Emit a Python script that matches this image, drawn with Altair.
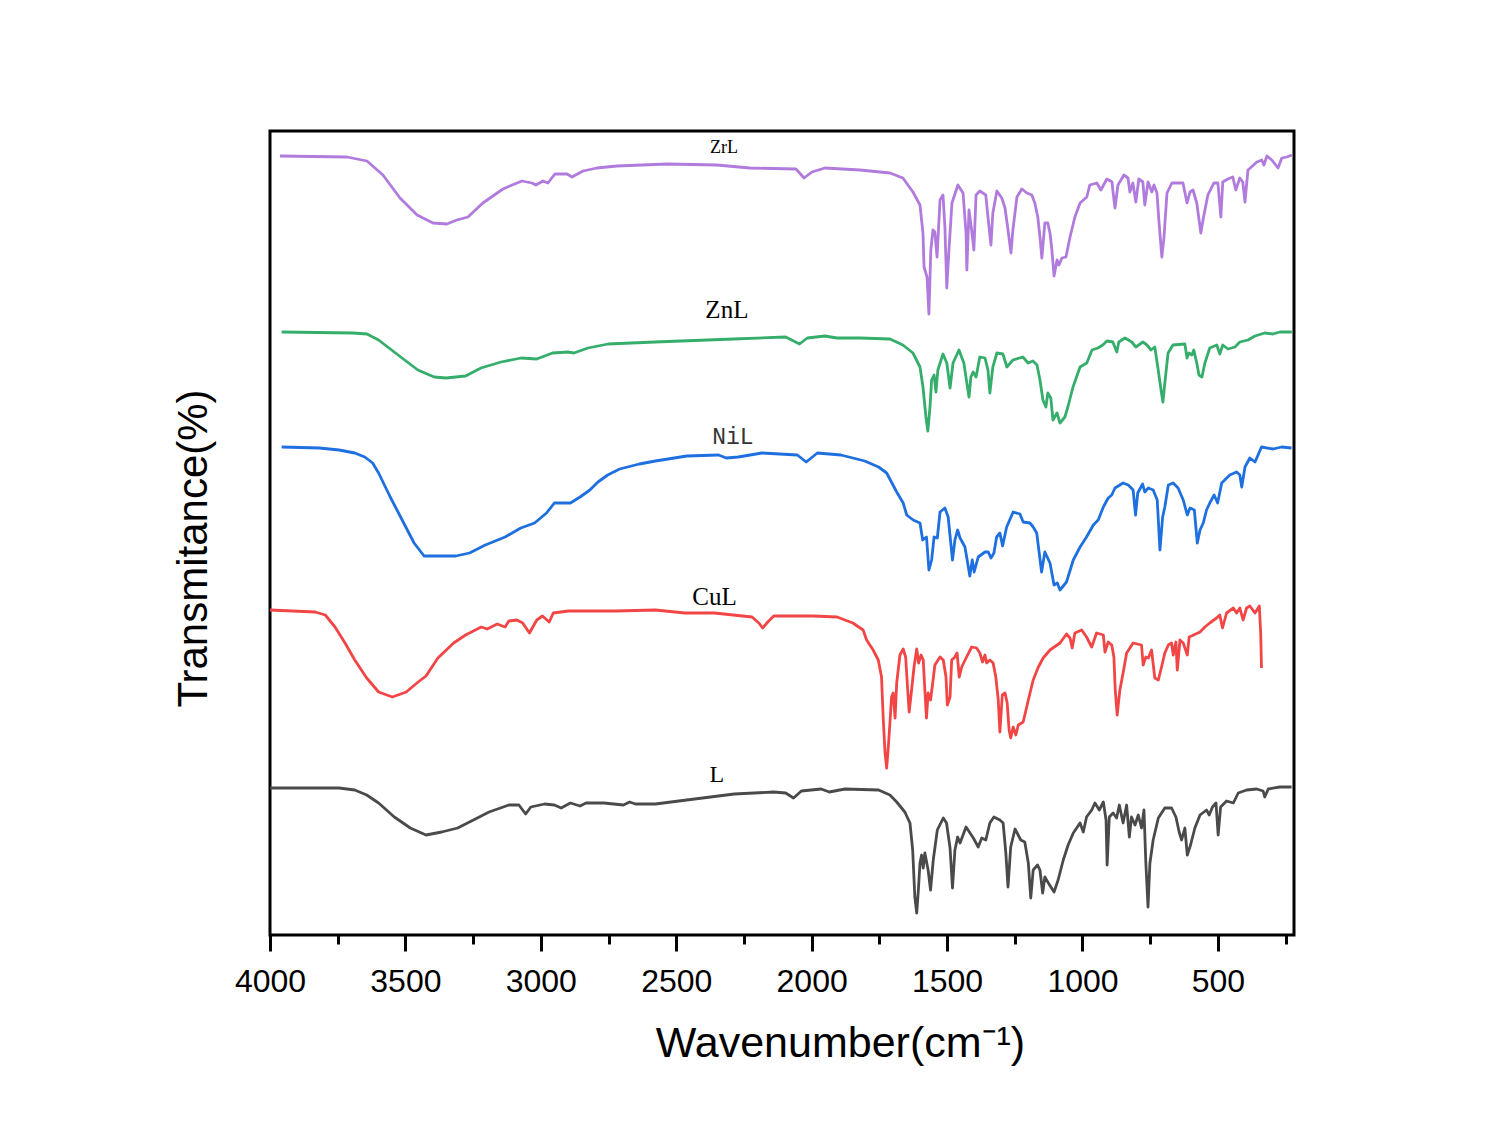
import altair as alt
import pandas as pd

series_names = ["ZrL", "ZnL", "NiL", "CuL", "L"]
series_colors = ["#B07BDD", "#35AD6B", "#1E6FDF", "#F24545", "#4A4A4A"]

zrl_wn = [3963, 3716, 3642, 3583, 3520, 3457, 3398, 3347, 3310, 3269, 3214, 3140, 3070, 3033, 3018, 2992, 2974, 2948, 2903, 2885,
          2844, 2793, 2719, 2534, 2350, 2228, 2058, 2028, 1999, 1951, 1822, 1711, 1663, 1626, 1600, 1589, 1585, 1574, 1567, 1560,
          1552, 1545, 1537, 1526, 1515, 1508, 1501, 1493, 1482, 1460, 1441, 1430, 1427, 1419, 1408, 1401, 1393, 1379, 1357, 1349,
          1338, 1331, 1316, 1298, 1286, 1275, 1264, 1257, 1242, 1224, 1205, 1187, 1176, 1165, 1157, 1150, 1139, 1128, 1120, 1113,
          1105, 1094, 1087, 1076, 1061, 1046, 1028, 1009, 984, 973, 947, 932, 910, 891, 888, 880, 869, 847, 832, 825,
          814, 803, 792, 777, 770, 758, 744, 736, 725, 718, 707, 699, 688, 670, 629, 614, 603, 592, 578, 563,
          555, 537, 515, 500, 489, 482, 463, 445, 434, 419, 408, 400, 389, 356, 338, 330, 319, 301, 278, 264, 245, 227]
zrl_t = [78.1, 78.0, 77.6, 76.2, 73.9, 72.2, 71.4, 71.3, 71.7, 72.0, 73.4, 74.8, 75.6, 75.4, 75.2, 75.6, 75.4, 76.3, 76.3, 76.0,
         76.6, 76.9, 77.1, 77.3, 77.2, 76.9, 76.8, 75.9, 76.5, 76.9, 76.7, 76.4, 75.9, 74.5, 73.2, 70.4, 67.0, 66.0, 62.3, 68.7,
         70.7, 70.5, 68.0, 73.7, 74.2, 71.0, 64.9, 68.7, 73.4, 75.2, 74.4, 70.4, 66.7, 72.7, 70.4, 68.7, 74.2, 74.6, 74.2, 72.0,
         69.2, 72.4, 74.6, 73.9, 72.9, 70.7, 68.4, 70.7, 74.0, 74.8, 74.4, 74.2, 73.4, 72.0, 70.0, 67.9, 71.4, 71.4, 70.4, 68.7,
         66.1, 67.7, 67.2, 67.9, 68.0, 70.0, 72.0, 73.4, 74.0, 75.2, 75.4, 74.7, 75.8, 75.5, 74.7, 72.9, 75.2, 76.2, 75.9, 74.5,
         75.4, 73.5, 75.8, 75.5, 73.2, 75.5, 74.5, 75.2, 74.4, 71.7, 68.0, 70.0, 74.4, 75.4, 75.4, 73.4, 74.5, 74.7, 73.4, 70.4,
         71.7, 74.2, 75.4, 75.4, 72.0, 75.5, 75.8, 76.0, 74.7, 75.9, 75.5, 73.5, 76.7, 77.5, 77.7, 77.2, 78.1, 77.7, 76.9, 77.9, 78.0, 78.2]

znl_wn = [3957, 3694, 3642, 3599, 3527, 3454, 3394, 3350, 3278, 3221, 3147, 3073, 3015, 2957, 2900, 2878, 2826, 2752, 2579, 2287,
          2096, 2074, 2045, 2016, 1951, 1907, 1822, 1711, 1663, 1626, 1600, 1589, 1578, 1571, 1563, 1557, 1548, 1541, 1534, 1515,
          1501, 1489, 1478, 1456, 1438, 1427, 1419, 1412, 1404, 1393, 1379, 1360, 1349, 1342, 1331, 1316, 1294, 1279, 1257, 1220,
          1201, 1183, 1168, 1157, 1146, 1135, 1128, 1117, 1109, 1094, 1083, 1065, 1054, 1035, 1009, 984, 965, 943, 925, 910,
          888, 873, 866, 843, 818, 803, 777, 762, 747, 733, 722, 710, 703, 696, 684, 666, 622, 614, 607, 596,
          589, 578, 570, 559, 548, 530, 504, 493, 482, 463, 437, 419, 389, 363, 327, 297, 271, 227]
znl_t = [60.5, 60.4, 60.3, 59.7, 58.2, 56.7, 56.0, 55.9, 56.1, 56.9, 57.5, 57.9, 57.8, 58.4, 58.5, 58.4, 58.9, 59.3, 59.5, 59.8,
         60.0, 59.7, 59.3, 59.9, 60.1, 59.9, 59.9, 59.8, 59.2, 58.4, 57.0, 55.0, 52.0, 50.6, 53.0, 55.7, 56.2, 54.5, 56.7, 58.3,
         57.4, 54.9, 57.4, 58.7, 57.4, 55.4, 54.0, 56.0, 56.5, 56.0, 58.0, 57.9, 56.7, 54.4, 57.0, 58.4, 58.3, 57.0, 57.7, 58.0,
         57.4, 57.6, 57.2, 55.7, 53.7, 53.0, 54.4, 53.9, 51.7, 52.4, 51.4, 52.0, 53.0, 55.0, 57.0, 57.4, 58.7, 58.9, 59.2, 59.6,
         59.5, 58.5, 59.5, 59.9, 59.5, 59.0, 59.5, 59.2, 58.7, 59.0, 57.0, 54.7, 53.5, 55.4, 58.4, 59.2, 59.3, 57.9, 58.4, 58.2,
         58.7, 57.4, 56.2, 56.0, 57.4, 58.9, 59.2, 58.3, 59.2, 58.8, 59.0, 59.5, 59.7, 60.1, 60.4, 60.3, 60.5, 60.5]

nil_wn = [3957, 3818, 3745, 3687, 3650, 3621, 3599, 3556, 3512, 3468, 3431, 3314, 3263, 3205, 3132, 3074, 3023, 2979, 2950, 2891,
          2855, 2819, 2789, 2753, 2709, 2636, 2577, 2461, 2344, 2315, 2271, 2184, 2053, 2020, 1979, 1892, 1804, 1753, 1723, 1686,
          1662, 1649, 1625, 1600, 1590, 1576, 1567, 1557, 1548, 1536, 1526, 1508, 1496, 1480, 1471, 1461, 1452, 1434, 1424, 1416,
          1407, 1400, 1385, 1360, 1348, 1338, 1327, 1317, 1305, 1295, 1280, 1256, 1231, 1219, 1194, 1182, 1169, 1151, 1139, 1120,
          1105, 1093, 1083, 1059, 1034, 1009, 985, 960, 942, 923, 905, 892, 880, 850, 831, 813, 804, 796, 778, 770,
          757, 739, 724, 714, 704, 696, 683, 665, 647, 628, 613, 603, 587, 576, 566, 554, 542, 530, 514, 501,
          486, 456, 431, 419, 412, 400, 382, 363, 339, 296, 265, 228]
nil_t = [49.0, 48.9, 48.7, 48.4, 48.0, 47.4, 46.4, 44.0, 41.7, 39.4, 38.1, 38.1, 38.4, 39.2, 40.0, 40.9, 41.4, 42.4, 43.4, 43.4,
         44.0, 44.7, 45.5, 46.2, 46.8, 47.3, 47.6, 48.1, 48.2, 47.9, 48.0, 48.4, 48.2, 47.5, 48.4, 48.2, 47.6, 47.0, 46.4, 44.5,
         43.4, 42.2, 41.7, 41.4, 39.7, 40.0, 36.7, 37.7, 40.0, 39.9, 42.5, 42.9, 42.0, 37.7, 39.7, 40.7, 39.9, 39.0, 37.4, 36.1,
         37.7, 36.5, 38.0, 38.5, 38.5, 37.9, 38.4, 40.0, 40.4, 39.1, 41.0, 42.5, 42.3, 41.5, 41.4, 41.0, 40.4, 36.5, 38.5, 37.4,
         35.2, 35.4, 34.7, 35.5, 37.7, 39.0, 40.0, 41.2, 41.7, 43.0, 43.9, 44.2, 44.9, 45.4, 45.2, 44.7, 42.2, 44.4, 45.3, 44.5,
         44.9, 44.7, 43.7, 38.7, 42.0, 43.0, 45.2, 45.4, 44.9, 43.7, 42.2, 42.9, 42.7, 39.4, 40.7, 41.4, 42.7, 43.4, 44.2, 43.4,
         45.4, 46.2, 46.5, 46.2, 45.0, 47.0, 47.9, 47.5, 49.0, 48.8, 49.0, 48.9]

cul_wn = [4000, 3833, 3796, 3760, 3723, 3687, 3643, 3599, 3548, 3497, 3453, 3424, 3380, 3322, 3278, 3220, 3198, 3161, 3132, 3118,
          3088, 3067, 3042, 3015, 2994, 2969, 2954, 2899, 2724, 2577, 2468, 2359, 2220, 2195, 2181, 2162, 2140, 1994, 1906, 1848,
          1810, 1797, 1773, 1754, 1742, 1736, 1729, 1723, 1717, 1711, 1705, 1699, 1692, 1686, 1674, 1662, 1653, 1646, 1640, 1631,
          1622, 1612, 1605, 1596, 1588, 1582, 1576, 1570, 1561, 1553, 1545, 1526, 1514, 1504, 1499, 1489, 1483, 1471, 1463, 1455,
          1446, 1428, 1409, 1391, 1379, 1369, 1360, 1354, 1342, 1330, 1320, 1311, 1305, 1296, 1286, 1278, 1271, 1265, 1256, 1246,
          1237, 1219, 1200, 1182, 1163, 1145, 1120, 1083, 1059, 1046, 1038, 1028, 1003, 985, 966, 948, 923, 917, 905, 892,
          884, 879, 872, 862, 850, 837, 813, 782, 776, 766, 757, 745, 733, 720, 708, 696, 683, 671, 665, 655,
          650, 640, 628, 613, 606, 566, 548, 530, 505, 493, 483, 468, 443, 431, 419, 407, 394, 382, 363, 347, 342, 339]
cul_t = [32.7, 32.5, 32.2, 31.0, 29.4, 27.7, 25.9, 24.5, 24.0, 24.5, 25.5, 26.1, 27.9, 29.4, 30.2, 31.0, 30.8, 31.3, 31.0, 31.6,
         31.7, 31.4, 30.4, 31.7, 32.1, 31.5, 32.4, 32.6, 32.6, 32.7, 32.4, 32.4, 32.0, 31.4, 30.9, 31.5, 32.1, 32.1, 32.0, 31.4,
         30.7, 29.7, 28.7, 27.7, 26.0, 22.0, 18.4, 16.9, 19.0, 21.4, 24.0, 24.4, 21.9, 25.4, 28.2, 28.8, 28.0, 25.0, 22.5, 24.7,
         27.0, 28.8, 27.4, 28.2, 27.7, 24.7, 21.9, 24.4, 23.7, 25.4, 27.2, 28.0, 27.7, 26.0, 23.2, 24.0, 27.7, 28.0, 28.4, 26.0,
         27.0, 28.0, 29.0, 28.9, 28.4, 27.5, 28.2, 27.4, 27.7, 27.4, 26.0, 23.7, 20.5, 24.2, 24.4, 23.4, 20.7, 19.9, 21.0, 20.2,
         21.2, 21.5, 23.7, 25.7, 27.0, 27.9, 28.7, 29.4, 30.3, 29.9, 28.9, 30.4, 30.7, 30.0, 29.0, 30.4, 30.2, 28.5, 29.5, 29.2,
         28.0, 24.7, 22.2, 24.7, 26.4, 28.4, 29.4, 29.2, 27.2, 28.0, 27.9, 28.7, 25.9, 25.7, 27.0, 28.4, 29.2, 29.4, 28.2, 29.5,
         26.7, 29.7, 29.4, 28.2, 30.0, 30.5, 31.0, 31.4, 31.9, 32.2, 30.9, 32.4, 32.9, 32.4, 32.9, 31.7, 32.9, 33.1, 32.4, 33.1, 30.4, 26.9]

l_wn = [4000, 3745, 3687, 3643, 3599, 3541, 3482, 3424, 3366, 3307, 3249, 3191, 3118, 3081, 3067, 3056, 3037, 2986, 2950, 2925,
        2891, 2855, 2833, 2767, 2695, 2672, 2651, 2577, 2432, 2286, 2140, 2096, 2067, 2038, 1965, 1935, 1877, 1753, 1711, 1686,
        1656, 1637, 1627, 1619, 1612, 1606, 1600, 1594, 1588, 1582, 1570, 1561, 1551, 1536, 1514, 1502, 1489, 1480, 1471, 1461,
        1452, 1430, 1403, 1385, 1372, 1357, 1342, 1327, 1305, 1293, 1283, 1275, 1265, 1249, 1228, 1213, 1200, 1191, 1182, 1166,
        1157, 1147, 1139, 1126, 1105, 1090, 1071, 1053, 1034, 1009, 997, 985, 966, 954, 938, 923, 913, 909, 901, 887,
        874, 864, 850, 837, 827, 819, 806, 794, 782, 773, 766, 758, 751, 739, 720, 696, 671, 655, 643, 634,
        622, 613, 601, 585, 566, 542, 532, 520, 507, 499, 490, 468, 443, 425, 394, 357, 333, 327, 314, 271, 228]
l_t = [14.9, 14.9, 14.7, 14.2, 13.4, 12.0, 10.9, 10.2, 10.5, 10.9, 11.7, 12.5, 13.2, 13.2, 12.7, 12.3, 13.0, 13.3, 13.2, 12.9,
       13.4, 13.1, 13.4, 13.4, 13.2, 13.5, 13.3, 13.3, 13.8, 14.3, 14.5, 14.4, 13.9, 14.6, 14.8, 14.5, 14.8, 14.7, 14.2, 13.5,
       12.5, 11.4, 8.7, 4.0, 2.4, 4.7, 7.4, 8.2, 6.9, 8.4, 6.7, 4.7, 7.7, 10.7, 11.9, 11.4, 8.9, 4.9, 8.7, 10.0,
       9.4, 11.0, 9.9, 9.0, 9.9, 9.7, 11.4, 12.0, 11.7, 11.4, 8.4, 5.0, 9.0, 10.8, 9.7, 9.5, 7.4, 3.9, 6.7, 7.2,
       6.7, 4.4, 6.0, 5.4, 4.5, 5.7, 7.7, 9.2, 10.4, 11.4, 10.5, 12.0, 12.7, 13.4, 12.7, 13.5, 11.7, 7.2, 12.0, 12.4,
       11.9, 13.2, 11.4, 13.2, 10.0, 12.0, 11.2, 12.2, 10.9, 12.7, 7.4, 3.0, 7.4, 9.7, 11.9, 12.9, 12.9, 12.0, 10.5, 9.7,
       10.9, 8.2, 9.2, 10.9, 12.2, 12.7, 12.2, 13.0, 13.4, 10.2, 13.0, 13.6, 13.4, 14.4, 14.7, 14.8, 14.6, 14.0, 14.8, 15.0, 15.0]

label_text = ["ZrL", "ZnL", "CuL", "L"]
label_wn = [2324, 2313, 2359, 2350]
label_t = [78.95, 62.7, 34.0, 16.2]
label_size = [18, 25, 25, 24]

mono_label_text = ["NiL"]
mono_label_wn = [2291]
mono_label_t = [50.0]

major_ticks = [4000, 3500, 3000, 2500, 2000, 1500, 1000, 500]
minor_ticks = [3750, 3250, 2750, 2250, 1750, 1250, 750, 250]

frames = []
for name, wn, t in [("ZrL", zrl_wn, zrl_t), ("ZnL", znl_wn, znl_t), ("NiL", nil_wn, nil_t),
                    ("CuL", cul_wn, cul_t), ("L", l_wn, l_t)]:
    frames.append(pd.DataFrame({"series": name, "wn": wn, "t": t}))
lines_df = pd.concat(frames, ignore_index=True)

labels_df = pd.DataFrame({"label": label_text, "wn": label_wn, "t": label_t, "size": label_size})
mono_df = pd.DataFrame({"label": mono_label_text, "wn": mono_label_wn, "t": mono_label_t})

xs = alt.Scale(domain=[219, 4000], reverse=True, nice=False, zero=False)
ys = alt.Scale(domain=[0.2, 80.6], nice=False, zero=False)

lines = alt.Chart(lines_df).mark_line(strokeWidth=2.8, strokeJoin="round").encode(
    x=alt.X("wn:Q", scale=xs, axis=alt.Axis(
        values=major_ticks, orient="bottom", tickSize=16, tickWidth=3, tickColor="black",
        domain=False, grid=False, labelFont="Liberation Sans", labelFontSize=32, labelColor="black",
        labelPadding=15, labelFlush=False, labelOverlap=False, format="d",
        title="Wavenumber(cm⁻¹)", titleFont="Liberation Sans", titleFontSize=43,
        titleFontWeight="normal", titleColor="black", titleX=570, titleY=108,
        titleBaseline="middle", titleAlign="center")),
    y=alt.Y("t:Q", scale=ys, axis=alt.Axis(
        labels=False, ticks=False, domain=False, grid=False,
        title="Transmitance(%)", titleFont="Liberation Sans", titleFontSize=42,
        titleFontWeight="normal", titleColor="black", titleAngle=270, titleX=-77, titleY=417,
        titleBaseline="middle", titleAlign="center")),
    color=alt.Color("series:N", scale=alt.Scale(domain=series_names, range=series_colors), legend=None),
)

text_serif = alt.Chart(labels_df).mark_text(font="Liberation Serif", color="black", baseline="middle", align="center").encode(
    x=alt.X("wn:Q", scale=xs, axis=alt.Axis(
        values=minor_ticks, orient="bottom", tickSize=9, tickWidth=3, tickColor="black",
        labels=False, domain=False, grid=False, title=None)),
    y=alt.Y("t:Q", scale=ys, axis=None),
    text="label:N",
    size=alt.Size("size:Q", scale=None, legend=None),
)

text_mono = alt.Chart(mono_df).mark_text(font="Liberation Mono", fontSize=23, color="#333333",
                                         baseline="middle", align="center").encode(
    x=alt.X("wn:Q", scale=xs, axis=None),
    y=alt.Y("t:Q", scale=ys, axis=None),
    text="label:N",
)

chart = alt.layer(lines, text_serif, text_mono).resolve_axis(
    x="independent", y="independent"
).properties(
    width=1024, height=804,
    autosize=alt.AutoSizeParams(type="none"),
    padding={"left": 262, "top": 123, "right": 200, "bottom": 170},
    background="white",
).configure_view(stroke="black", strokeWidth=3)

chart.save("out.html", embed_options={"renderer": "svg", "actions": False})
